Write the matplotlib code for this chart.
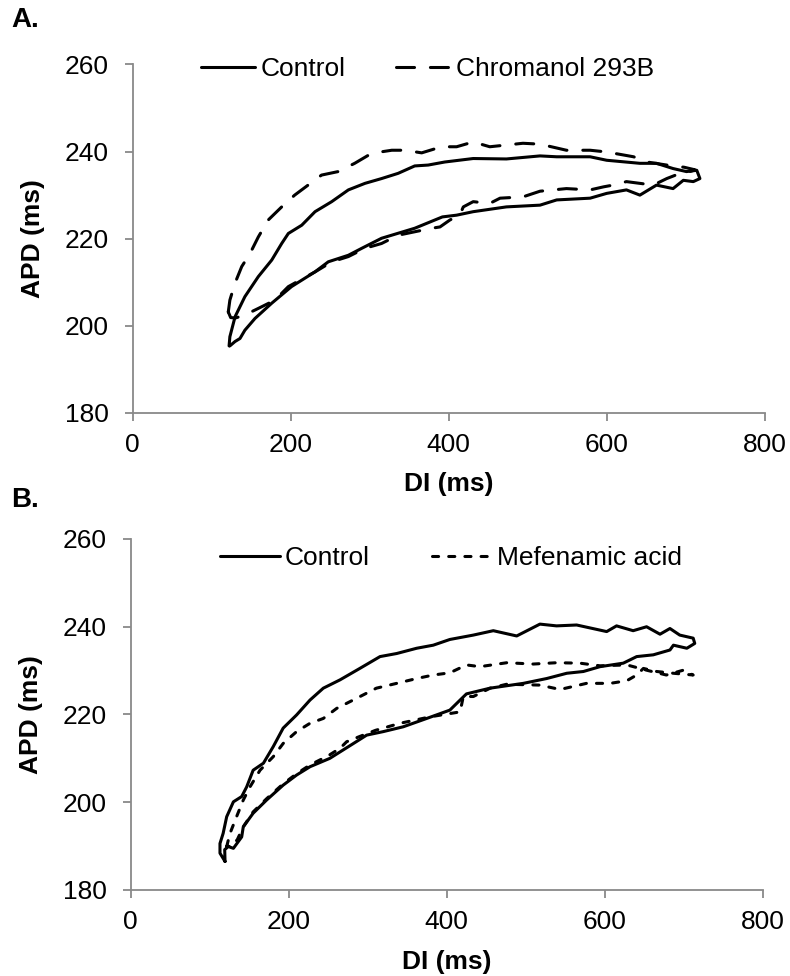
import matplotlib
matplotlib.use("Agg")
import matplotlib.pyplot as plt

plt.rcParams['font.family'] = ['Liberation Sans', 'DejaVu Sans']

# ---- Panel A: restitution loops, control vs Chromanol 293B ----
a_control_di = [122, 123, 129.6, 142, 159, 176, 188.6, 197, 214, 230.8, 251.9, 273, 294,
                315, 336, 357, 374, 395, 431, 473, 515.6, 536.7, 579, 600, 642, 663, 684,
                701, 714, 718, 709.6,
                697, 684, 663, 642, 625, 600, 579, 536.7, 515.6, 473, 431, 410, 392, 357,
                315, 290, 273, 247.6, 230.8, 201, 176, 154.8, 142, 135.8, 129.5, 123]
a_control_apd = [195.4, 197.5, 202.1, 206.7, 211.3, 215.1, 218.9, 221.2, 223.1, 226.2, 228.5,
                 231.2, 232.7, 233.8, 235.0, 236.7, 236.9, 237.6, 238.4, 238.3, 239.0, 238.8,
                 238.8, 238.0, 237.3, 237.3, 236.1, 235.4, 235.7, 233.8, 233.1,
                 233.4, 231.5, 232.3, 230.0, 231.2, 230.4, 229.3, 228.9, 227.7, 227.3, 226.2,
                 225.4, 225.0, 222.4, 220.1, 217.8, 216.2, 214.7, 212.4, 209.0, 205.2, 201.7,
                 199.0, 197.1, 196.4, 195.4]

a_chromanol_di = [121, 123, 129.5, 138, 148.5, 159, 171.6, 188.6, 205, 222, 239, 260, 281,
                  302.5, 328, 344.7, 365.8, 391, 410, 431, 452, 494, 515.6, 549, 579, 600,
                  634, 651, 676, 698, 712,
                  705, 693, 676, 659, 642, 625, 608, 596, 579, 549, 515.6, 494, 465, 452, 431,
                  418.5, 414, 401.6, 389, 378.5, 336, 315, 294, 273, 252, 231, 197, 180, 159,
                  142, 130, 124, 121]
a_chromanol_apd = [203.2, 205.9, 209.8, 213.6, 216.6, 220.4, 224.3, 227.3, 230.0, 232.3,
                   234.6, 235.4, 237.3, 239.6, 240.3, 240.3, 239.7, 241.1, 241.1, 242.2, 241.1,
                   241.9, 241.7, 240.3, 240.3, 239.9, 238.8, 237.6, 236.9, 236.4, 235.8,
                   235.4, 235.0, 233.8, 232.3, 232.7, 233.1, 232.3, 231.9, 231.2, 231.5, 230.9,
                   229.6, 229.3, 228.1, 228.5, 227.3, 225.4, 224.3, 222.7, 222.4, 220.8, 218.9,
                   217.8, 215.9, 214.7, 212.4, 209.0, 205.9, 204.0, 202.5, 201.8, 201.9, 203.2]

# ---- Panel B: restitution loops, control vs mefenamic acid ----
b_control_di = [119.4, 113, 113, 117, 121.5, 130, 140.5, 146.8, 155, 168, 180.5, 193, 210,
                227, 243.8, 265, 290, 315.6, 336.7, 362, 383, 404, 433.7, 459, 488.6, 518,
                539, 564.5, 602.5, 615, 636, 653, 670, 682.6, 695, 712, 714,
                704, 687, 682.6, 661.5, 640.5, 623.5, 594, 573, 552, 526.6, 497, 454.8, 425,
                417, 404, 374.7, 345, 319.7, 298.7, 277.6, 252, 227, 210, 193, 172, 155,
                142.5, 140.5, 130, 123.5, 119, 119.4]
b_control_apd = [186.5, 188.4, 190.6, 192.9, 196.7, 200.1, 201.3, 203.5, 207.3, 208.9, 212.7,
                 216.9, 219.9, 223.3, 226.0, 227.9, 230.5, 233.2, 233.9, 235.1, 235.8, 237.1,
                 238.1, 239.1, 237.9, 240.6, 240.2, 240.4, 238.9, 240.2, 239.1, 240.0, 238.3,
                 239.6, 238.1, 237.4, 236.2,
                 235.1, 235.8, 234.7, 233.6, 233.2, 231.7, 230.9, 229.8, 229.4, 228.2, 227.1,
                 226.0, 224.7, 223.3, 221.0, 219.1, 217.2, 216.1, 215.3, 212.9, 210.0, 208.1,
                 206.2, 203.9, 200.5, 197.5, 194.4, 192.1, 189.5, 189.9, 189.2, 186.5]

b_mefenamic_di = [121.5, 125.7, 134, 142.5, 151, 163.7, 180.5, 193, 210, 227, 243.8, 260.8,
                  286, 311, 336.7, 362, 383, 404, 425, 442, 476, 509.6, 539, 568.7, 594, 628,
                  653, 678, 699.5, 712,
                  687, 666, 649, 640.5, 628, 607, 577, 543.5, 518, 476, 455, 433.7, 421, 417,
                  380, 341, 310, 290, 273.4, 265, 250, 227, 210, 193, 172, 155, 142.5, 135,
                  128, 121.5]
b_mefenamic_apd = [189.9, 192.9, 196.7, 200.5, 203.5, 207.3, 210.4, 213.4, 216.1, 218.0,
                   219.1, 221.4, 223.7, 226.0, 227.1, 228.2, 229.0, 229.5, 231.3, 230.9, 231.8,
                   231.5, 231.8, 231.7, 231.1, 231.3, 230.1, 229.0, 230.1, 229.0,
                   229.4, 229.8, 230.5, 229.0, 227.7, 227.1, 227.1, 225.7, 226.7, 226.9, 226.0,
                   224.1, 224.1, 220.6, 219.5, 218.0, 216.4, 215.0, 213.8, 212.3, 210.6, 208.5,
                   206.5, 204.2, 200.8, 197.8, 194.4, 191.5, 190.0, 189.9]

x_ticks = [0, 200, 400, 600, 800]
y_ticks = [180, 200, 220, 240, 260]

FS = 19
GREY = '#898989'
LW = 2.2

fig = plt.figure(figsize=(7.9, 9.76), dpi=100)
W, H = 790.0, 976.0
axA = fig.add_axes([132.7 / W, (H - 413) / H, 632 / W, 348.6 / H])
axB = fig.add_axes([130.7 / W, (H - 890) / H, 632 / W, 351 / H])


def style_axes(ax):
    ax.set_xlim(0, 800)
    ax.set_ylim(180, 260)
    ax.set_xticks(x_ticks)
    ax.set_yticks(y_ticks)
    for s in ('top', 'right'):
        ax.spines[s].set_visible(False)
    for s in ('left', 'bottom'):
        ax.spines[s].set_color(GREY)
        ax.spines[s].set_linewidth(1.3)
    ax.tick_params(axis='both', colors=GREY, labelcolor='black', length=5.5,
                   width=1.3, labelsize=FS)
    ax.tick_params(axis='y', pad=12)
    ax.tick_params(axis='x', pad=9)
    ax.set_xlabel('DI (ms)', fontsize=FS, fontweight='bold')
    ax.set_ylabel('APD (ms)', fontsize=FS, fontweight='bold')
    ax.xaxis.set_label_coords(0.5, -0.205)
    ax.xaxis.label.set_va('center')
    ax.yaxis.set_label_coords(-0.158, 0.5)
    ax.yaxis.label.set_va('center')


# Panel A
style_axes(axA)
axA.plot(a_control_di, a_control_apd, color='black', lw=LW, solid_capstyle='round',
         solid_joinstyle='round', label='Control')
axA.plot(a_chromanol_di, a_chromanol_apd, color='black', lw=LW, dashes=(5.9, 5.2),
         dash_capstyle='round', label='Chromanol 293B')
axA.legend(loc='center left', bbox_to_anchor=(0.108, 0.986), ncol=2, frameon=False,
           fontsize=FS, handlelength=2.05, handletextpad=0.23, columnspacing=1.9,
           borderpad=0, borderaxespad=0)

# Panel B
style_axes(axB)
axB.plot(b_control_di, b_control_apd, color='black', lw=LW, solid_capstyle='round',
         solid_joinstyle='round', label='Control')
axB.plot(b_mefenamic_di, b_mefenamic_apd, color='black', lw=LW, dashes=(2.0, 3.3),
         dash_capstyle='round', label='Mefenamic acid')
axB.legend(loc='center left', bbox_to_anchor=(0.141, 0.946), ncol=2, frameon=False,
           fontsize=FS, handlelength=2.27, handletextpad=0.2, columnspacing=2.35,
           borderpad=0, borderaxespad=0)

fig.text(11 / W, 1 - 20 / H, 'A.', fontsize=FS + 1, fontweight='bold', ha='left', va='center')
fig.text(11 / W, 1 - 500 / H, 'B.', fontsize=FS + 1, fontweight='bold', ha='left', va='center')

fig.savefig('out.png', dpi=100)
